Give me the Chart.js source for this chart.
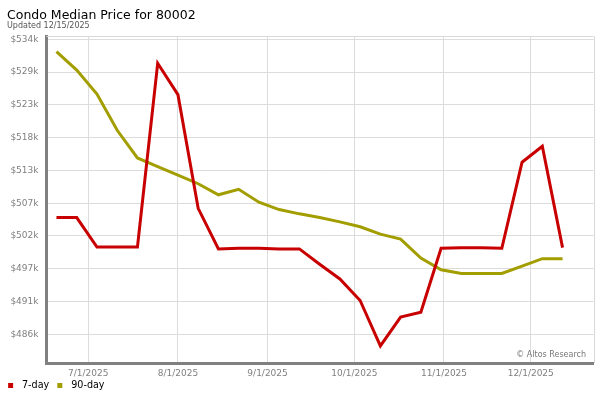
<!DOCTYPE html>
<html>
<head>
<meta charset="utf-8">
<script src="https://cdn.jsdelivr.net/npm/chart.js@4.4.1/dist/chart.umd.min.js"></script>
<style>
    body { margin: 0; background: #fff; }
    #chart-wrap { width: 600px; height: 400px; position: relative; }
</style>
</head>
<body>
<div id="chart-wrap"><canvas id="price-chart"></canvas></div>
<script>
// Weekly sample dates (Fridays)
const weekDates = [
    '2025-06-20', '2025-06-27', '2025-07-04', '2025-07-11', '2025-07-18', '2025-07-25',
    '2025-08-01', '2025-08-08', '2025-08-15', '2025-08-22', '2025-08-29',
    '2025-09-05', '2025-09-12', '2025-09-19', '2025-09-26',
    '2025-10-03', '2025-10-10', '2025-10-17', '2025-10-24', '2025-10-31',
    '2025-11-07', '2025-11-14', '2025-11-21', '2025-11-28',
    '2025-12-05', '2025-12-12'
];

const sevenDay = [
    505000, 505000, 500200, 500200, 500200, 530100,
    525000, 506500, 499900, 500000, 500000,
    499900, 499900, 497400, 495000,
    491500, 484100, 488800, 489600, 500000,
    500100, 500100, 500000, 514000,
    516600, 500100
];

const ninetyDay = [
    532000, 529000, 525100, 519200, 514700, 513300,
    511900, 510500, 508700, 509600, 507500,
    506300, 505600, 505000, 504300,
    503500, 502300, 501500, 498400, 496500,
    495900, 495900, 495900, 497100,
    498300, 498300
];

const seriesNames = ['7-day', '90-day'];
const seriesColors = ['#c80000', '#a39e00'];

// Axis ticks
const monthTicks = ['2025-07-01', '2025-08-01', '2025-09-01', '2025-10-01', '2025-11-01', '2025-12-01'];
const priceTicks = [486000, 491333, 496667, 502000, 507333, 512667, 518000, 523333, 528667, 534000];

const chartTitle = 'Condo Median Price for 80002';
const chartSubtitle = 'Updated 12/15/2025';
const creditText = '\u00a9 Altos Research';

const DAY_MS = 86400000;

function toDay(s) {
    return Date.parse(s + 'T00:00:00Z') / DAY_MS;
}

function formatDay(v) {
    const d = new Date(Math.round(v) * DAY_MS);
    return (d.getUTCMonth() + 1) + '/' + d.getUTCDate() + '/' + d.getUTCFullYear();
}

/**
 * Small legend marker: a 5px square inside a wider transparent canvas,
 * so the square sits a bit left of the label text
 */
function makeMarker(color) {
    const c = document.createElement('canvas');
    c.width = 15;
    c.height = 5;
    const g = c.getContext('2d');
    g.fillStyle = color;
    g.fillRect(6, 0, 5, 5);
    return c;
}
const markers = seriesColors.map(makeMarker);

/**
 * Title, subtitle, plot frame and credit line
 */
const decorations = {
    id: 'decorations',
    beforeDatasetsDraw(chart) {
        const {ctx, chartArea} = chart;
        ctx.save();
        ctx.strokeStyle = '#d9d9d9';
        ctx.lineWidth = 1;
        ctx.beginPath();
        ctx.moveTo(chartArea.left, Math.round(chartArea.top) + 0.5);
        ctx.lineTo(chartArea.right, Math.round(chartArea.top) + 0.5);
        ctx.moveTo(Math.round(chartArea.right) + 0.5, chartArea.top);
        ctx.lineTo(Math.round(chartArea.right) + 0.5, chartArea.bottom);
        ctx.stroke();
        ctx.restore();
    },
    afterDraw(chart) {
        const {ctx, chartArea} = chart;
        ctx.save();
        ctx.textBaseline = 'alphabetic';
        ctx.textAlign = 'left';
        ctx.fillStyle = '#000';
        ctx.font = '12.5px "DejaVu Sans"';
        ctx.fillText(chartTitle, 7, 19);
        ctx.fillStyle = '#555';
        ctx.font = '8px "DejaVu Sans"';
        ctx.fillText(chartSubtitle, 7, 27.5);
        ctx.fillStyle = '#777';
        ctx.textAlign = 'right';
        ctx.fillText(creditText, chartArea.right - 7.5, chartArea.bottom - 6);
        ctx.restore();
    }
};

Chart.defaults.font.family = '"DejaVu Sans"';

const ctx = document.getElementById('price-chart');
const priceChart = new Chart(ctx, {
    type: 'line',
    data: {
        datasets: [sevenDay, ninetyDay].map((values, i) => ({
            label: seriesNames[i],
            data: values.map((v, j) => ({x: toDay(weekDates[j]), y: v})),
            borderColor: seriesColors[i],
            backgroundColor: seriesColors[i],
            borderWidth: 3,
            pointRadius: 0,
            tension: 0,
            fill: false
        }))
    },
    options: {
        responsive: true,
        maintainAspectRatio: false,
        animation: false,
        layout: {
            padding: {left: 0, right: 6.5, top: 36, bottom: 0}
        },
        scales: {
            x: {
                type: 'linear',
                min: toDay('2025-06-16') + 0.55,
                max: toDay('2025-12-22') + 0.7,
                afterBuildTicks: function(scale) {
                    scale.ticks = monthTicks.map(m => ({value: toDay(m)}));
                },
                afterFit: function(scale) {
                    scale.height = 15.4;
                },
                ticks: {
                    autoSkip: false,
                    maxRotation: 0,
                    padding: 5,
                    color: '#808080',
                    font: {size: 9},
                    callback: function(value) {
                        return formatDay(value);
                    }
                },
                grid: {color: '#dcdcdc', drawTicks: false},
                border: {color: '#808080', width: 3}
            },
            y: {
                min: 481330,
                max: 534540,
                afterBuildTicks: function(scale) {
                    scale.ticks = priceTicks.map(v => ({value: v}));
                },
                afterFit: function(scale) {
                    scale.width = 46.5;
                },
                ticks: {
                    padding: 8,
                    color: '#808080',
                    font: {size: 9},
                    callback: function(value) {
                        return '$' + Math.round(value / 1000) + 'k';
                    }
                },
                grid: {color: '#dcdcdc', drawTicks: false},
                border: {color: '#808080', width: 3}
            }
        },
        plugins: {
            legend: {
                position: 'bottom',
                align: 'start',
                labels: {
                    usePointStyle: true,
                    pointStyleWidth: 15.2,
                    padding: 2,
                    color: '#000',
                    font: {size: 9.6},
                    generateLabels: function(chart) {
                        const items = Chart.defaults.plugins.legend.labels.generateLabels(chart);
                        items.forEach((item, i) => { item.pointStyle = markers[i]; });
                        return items;
                    }
                }
            },
            tooltip: {enabled: false}
        }
    },
    plugins: [decorations]
});
</script>
</body>
</html>
